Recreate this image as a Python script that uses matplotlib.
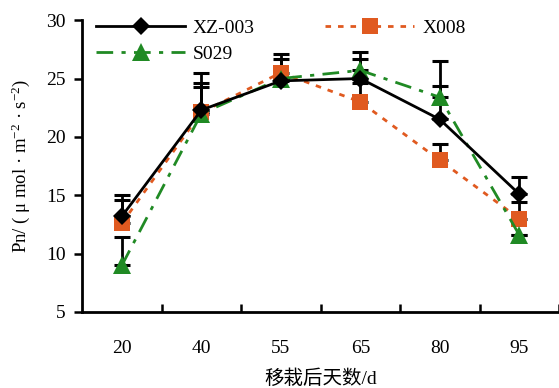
import matplotlib
matplotlib.use("Agg")
import matplotlib.pyplot as plt
import numpy as np

# données
jours = ["20", "40", "55", "65", "80", "95"]
xz003 = [13.2, 22.3, 24.8, 25.0, 21.5, 15.1]
xz003_err = [1.8, 3.2, 2.3, 1.7, 5.0, 1.5]
x008 = [12.6, 22.1, 25.5, 23.0, 18.0, 13.0]
x008_err = [2.0, 2.5, 1.2, 1.6, 1.4, 1.4]
s029 = [9.0, 22.0, 25.0, 25.7, 23.4, 11.6]
s029_err = [2.4, 2.3, 0.0, 1.6, 1.0, 0.0]

serif = ["Liberation Serif", "Noto Sans CJK SC", "DejaVu Sans"]
plt.rcParams["font.family"] = serif
plt.rcParams["mathtext.fontset"] = "custom"
plt.rcParams["mathtext.rm"] = "Liberation Serif"
plt.rcParams["mathtext.it"] = "Liberation Serif:italic"

orange = "#E05A20"
vert = "#208A24"

fig = plt.figure(figsize=(5.59, 3.88), dpi=100)
ax = fig.add_axes([0.147, 0.196, 0.853, 0.752])
x = np.arange(len(jours))

# barres d'erreur (vers le haut seulement), noires
for vals, err in [(xz003, xz003_err), (x008, x008_err), (s029, s029_err)]:
    ax.errorbar(x, vals, yerr=[np.zeros(len(err)), err], fmt="none",
                ecolor="black", elinewidth=2, capsize=6, capthick=2.2, zorder=2)

ax.plot(x, x008, color=orange, linestyle=(0, (2, 2.5)), linewidth=2,
        marker="s", markersize=12, markeredgewidth=0, label="X008", zorder=3)
ax.plot(x, s029, color=vert, linestyle=(0, (6, 3, 1.5, 3)), linewidth=2,
        marker="^", markersize=13, markeredgewidth=0, label="S029", zorder=4)
ax.plot(x, xz003, color="black", linestyle="-", linewidth=2,
        marker="D", markersize=9, markeredgewidth=0, label="XZ-003", zorder=5)

ax.set_xlim(-0.5, len(jours) - 0.5)
ax.set_ylim(5, 30)
ax.set_yticks(np.arange(5, 31, 5))
ax.set_xticks(x)
ax.set_xticklabels(jours)
ax.set_xticks(np.arange(0.5, len(jours) - 0.4, 1), minor=True)
ax.tick_params(axis="x", which="major", length=0, pad=20, labelsize=14)
ax.tick_params(axis="x", which="minor", direction="in", length=6, width=1.8)
ax.tick_params(axis="y", direction="out", length=6, width=1.8, labelsize=14, pad=6)

for s in ["top", "right"]:
    ax.spines[s].set_visible(False)
for s in ["left", "bottom"]:
    ax.spines[s].set_linewidth(2)

ax.set_xlabel("移栽后天数/d", fontsize=14, labelpad=9)
ax.set_ylabel("Pn/ ( μ mol · m$^{-2}$ · s$^{-2}$)", fontsize=13.5, labelpad=10)

h, l = ax.get_legend_handles_labels()
ordre = [2, 1, 0]
ax.legend([h[i] for i in ordre], [l[i] for i in ordre], ncol=2, frameon=False,
          loc="upper left", bbox_to_anchor=(0.0, 1.05), handlelength=4.6,
          columnspacing=3.6, fontsize=14, labelspacing=0.45, handletextpad=0.4,
          borderaxespad=0.3)

fig.savefig("out.png", dpi=100)
